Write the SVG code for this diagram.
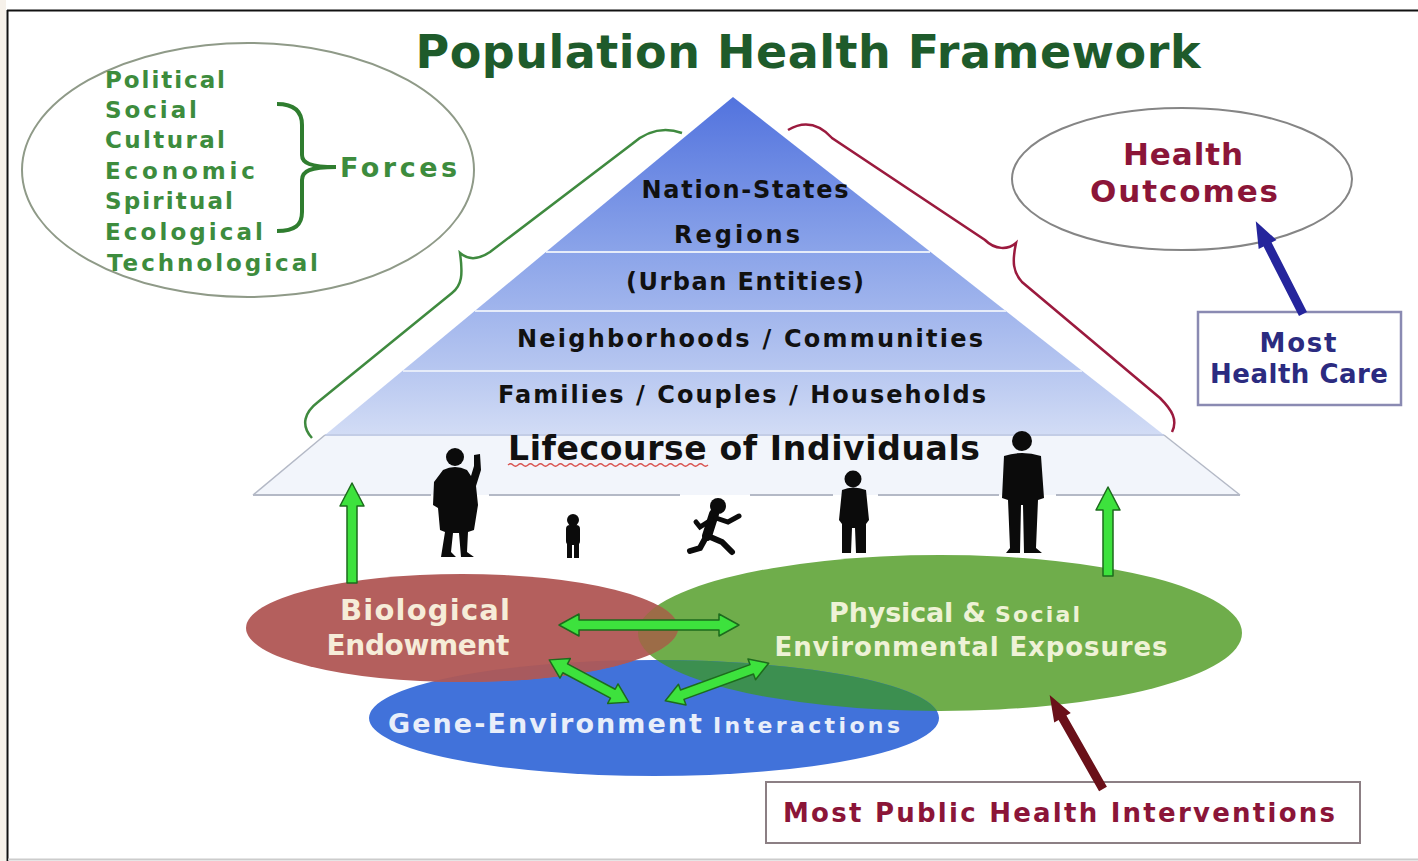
<svg xmlns="http://www.w3.org/2000/svg" width="1418" height="861" viewBox="0 0 1418 861">
  <style>
    .t { font-family: "DejaVu Sans", "Liberation Sans", sans-serif; font-weight: bold; }
    .force { fill: #3d8c3d; font-size: 23px; }
    .tier { fill: #111111; font-size: 24px; }
    .ell { fill: #ffffff; stroke: #8f9a88; stroke-width: 2; }
    .arrowG { fill: #3de23d; stroke: #1d6b1d; stroke-width: 1.5; stroke-linejoin: round; }
    .fig { fill: #0b0b0b; }
    .limb { stroke: #0b0b0b; stroke-linecap: round; fill: none; }
    .sep { stroke: #e6ecf9; stroke-width: 2; }
  </style>
  <defs>
    <linearGradient id="pyrFill" gradientUnits="userSpaceOnUse" x1="0" y1="97" x2="0" y2="435">
      <stop offset="0" stop-color="#5273de"/>
      <stop offset="0.45" stop-color="#8aa3e9"/>
      <stop offset="0.8" stop-color="#b6c6f0"/>
      <stop offset="1" stop-color="#d2dcf5"/>
    </linearGradient>
    <clipPath id="clipGreen"><ellipse cx="940" cy="633" rx="302" ry="78"/></clipPath>
    <clipPath id="clipBlue"><ellipse cx="654" cy="718" rx="285" ry="58"/></clipPath>
  </defs>

  <!-- page frame -->
  <g id="frame">
    <rect x="0" y="0" width="1418" height="861" fill="#ffffff"/>
    <rect x="0" y="0" width="6" height="861" fill="#f6f1ea"/>
    <line x1="7.5" y1="10" x2="7.5" y2="861" stroke="#111" stroke-width="2"/>
    <line x1="7" y1="10.5" x2="1418" y2="10.5" stroke="#111" stroke-width="2"/>
    <line x1="8" y1="859.5" x2="1418" y2="859.5" stroke="#cccccc" stroke-width="2"/>
  </g>

  <text id="title" class="t" x="808" y="68" font-size="46" fill="#1e5b2b" text-anchor="middle" textLength="785">Population Health Framework</text>

  <!-- forces ellipse -->
  <g id="forces">
    <ellipse class="ell" cx="248" cy="170" rx="226" ry="127"/>
    <text class="t force" x="105" y="88" textLength="120">Political</text>
    <text class="t force" x="105" y="118" textLength="92">Social</text>
    <text class="t force" x="105" y="148" textLength="120">Cultural</text>
    <text class="t force" x="105" y="179" textLength="150">Economic</text>
    <text class="t force" x="105" y="209" textLength="128">Spiritual</text>
    <text class="t force" x="105" y="240" textLength="158">Ecological</text>
    <text class="t force" x="107" y="271" textLength="211">Technological</text>
    <path d="M277,104 C295,104 302,112 302,125 L302,155 C302,163 310,167 336,167 C310,167 302,171 302,180 L302,212 C302,225 295,231 277,231" fill="none" stroke="#2f7d2f" stroke-width="4"/>
    <text class="t" x="340" y="177" font-size="27" fill="#3d8c3d" textLength="117">Forces</text>
  </g>

  <!-- pyramid of levels -->
  <g id="pyramid">
    <polygon points="733,97 1164,435 325,435" fill="url(#pyrFill)"/>
    <polygon points="325,435 1164,435 1240,495 253,495" fill="#f2f5fb"/>
    <line class="sep" x1="546" y1="252" x2="930" y2="252"/>
    <line class="sep" x1="475" y1="311" x2="1006" y2="311"/>
    <line class="sep" x1="403" y1="371" x2="1082" y2="371"/>
    <line x1="325" y1="435" x2="1164" y2="435" stroke="#c3cde6" stroke-width="2"/>
    <line x1="325" y1="435" x2="253" y2="495" stroke="#b4b9c6" stroke-width="1.5"/>
    <line x1="1164" y1="435" x2="1240" y2="495" stroke="#b4b9c6" stroke-width="1.5"/>
    <g stroke="#b4b9c6" stroke-width="2">
      <line x1="253" y1="495" x2="431" y2="495"/>
      <line x1="489" y1="495" x2="680" y2="495"/>
      <line x1="750" y1="495" x2="833" y2="495"/>
      <line x1="878" y1="495" x2="999" y2="495"/>
      <line x1="1056" y1="495" x2="1240" y2="495"/>
    </g>
    <text class="t tier" x="745" y="198" text-anchor="middle" textLength="207">Nation-States</text>
    <text class="t tier" x="737" y="243" text-anchor="middle" textLength="126">Regions</text>
    <text class="t tier" x="745" y="290" text-anchor="middle" textLength="238">(Urban Entities)</text>
    <text class="t tier" x="750" y="347" text-anchor="middle" textLength="466">Neighborhoods / Communities</text>
    <text class="t tier" x="742" y="403" text-anchor="middle" textLength="488">Families / Couples / Households</text>
    <text class="t" x="744" y="460" font-size="33" fill="#111" text-anchor="middle" textLength="472">Lifecourse of Individuals</text>
    <path d="M508,465 q2.5,-2.5 5,0 t5,0 t5,0 t5,0 t5,0 t5,0 t5,0 t5,0 t5,0 t5,0 t5,0 t5,0 t5,0 t5,0 t5,0 t5,0 t5,0 t5,0 t5,0 t5,0 t5,0 t5,0 t5,0 t5,0 t5,0 t5,0 t5,0 t5,0 t5,0 t5,0 t5,0 t5,0 t5,0 t5,0 t5,0 t5,0 t5,0 t5,0 t5,0 t5,0" fill="none" stroke="#d9534f" stroke-width="1.3"/>
  </g>

  <!-- people along the life course -->
  <g id="figures">
    <g id="woman" class="fig">
      <circle cx="455" cy="457" r="9"/>
      <path d="M443,470 Q455,464 467,470 L471,476 L474,466 L474,455 L480,454 L481,470 L476,486 L478,505 L474,530 L468,532 L467,552 L474,557 L461,557 L459,533 L453,533 L451,552 L456,557 L441,557 L445,532 L440,530 L438,508 L433,505 L434,482 Z"/>
    </g>
    <g id="toddler" class="fig">
      <circle cx="573" cy="520" r="6"/>
      <rect x="566" y="525" width="14" height="20" rx="4"/>
      <rect x="567" y="543" width="5" height="15"/>
      <rect x="574" y="543" width="5" height="15"/>
    </g>
    <g id="runner">
      <circle class="fig" cx="718" cy="506" r="8"/>
      <path class="limb" d="M714,514 L707,536" stroke-width="10"/>
      <path class="limb" d="M716,518 L728,522 L739,516" stroke-width="5"/>
      <path class="limb" d="M711,520 L700,527 L696,522" stroke-width="5"/>
      <path class="limb" d="M708,536 L722,542 L732,552" stroke-width="6"/>
      <path class="limb" d="M706,537 L700,548 L690,551" stroke-width="6"/>
    </g>
    <g id="boy" class="fig">
      <circle cx="853" cy="479" r="8.5"/>
      <path d="M842,490 Q853,485 866,490 L869,520 L866,524 L866,553 L856,553 L855,528 L852,528 L851,553 L842,553 L842,524 L839,520 Z"/>
    </g>
    <g id="man" class="fig">
      <circle cx="1022" cy="441" r="10"/>
      <path d="M1004,456 Q1022,450 1041,456 L1044,498 L1038,500 L1036,548 L1042,553 L1024,553 L1023,505 L1021,505 L1020,553 L1006,553 L1010,548 L1008,500 L1002,498 Z"/>
    </g>
  </g>

  <!-- health outcomes -->
  <g id="health-outcomes">
    <ellipse cx="1182" cy="179" rx="170" ry="71" fill="#ffffff" stroke="#858585" stroke-width="2"/>
    <text class="t" x="1183" y="165" font-size="31" fill="#8b1538" text-anchor="middle" textLength="120">Health</text>
    <text class="t" x="1184" y="202" font-size="31" fill="#8b1538" text-anchor="middle" textLength="188">Outcomes</text>
  </g>

  <g id="health-care">
    <rect x="1198" y="312" width="203" height="93" fill="#ffffff" stroke="#8a8ab2" stroke-width="2.5"/>
    <text class="t" x="1298" y="352" font-size="26" fill="#2b2b80" text-anchor="middle" textLength="77">Most</text>
    <text class="t" x="1299" y="383" font-size="26" fill="#2b2b80" text-anchor="middle" textLength="178">Health Care</text>
  </g>

  <g id="public-health">
    <rect x="766" y="782" width="594" height="61" fill="#ffffff" stroke="#8c7f84" stroke-width="2"/>
    <text class="t" x="783" y="822" font-size="26" fill="#8b1538" textLength="552">Most Public Health Interventions</text>
  </g>

  <!-- determinant ellipses -->
  <g id="environment">
    <ellipse cx="940" cy="633" rx="302" ry="78" fill="#6fad4b"/>
  </g>
  <g id="gene-environment">
    <ellipse cx="654" cy="718" rx="285" ry="58" fill="#4172da"/>
    <ellipse cx="654" cy="718" rx="285" ry="58" fill="#3c8f50" clip-path="url(#clipGreen)"/>
  </g>
  <g id="biological">
    <ellipse cx="462" cy="628" rx="216" ry="54" fill="#b45f5d"/>
    <ellipse cx="462" cy="628" rx="216" ry="54" fill="#9c6c47" clip-path="url(#clipGreen)"/>
    <ellipse cx="462" cy="628" rx="216" ry="54" fill="#a85a5e" clip-path="url(#clipBlue)"/>
  </g>
  <g id="labels">
    <text class="t" x="425" y="620" font-size="29" fill="#f6ecd8" text-anchor="middle" textLength="170">Biological</text>
    <text class="t" x="418" y="655" font-size="28" fill="#f6ecd8" text-anchor="middle" textLength="183">Endowment</text>
    <text class="t" x="829" y="622" font-size="27" fill="#eef2d6" textLength="157">Physical &amp;</text>
    <text class="t" x="995" y="622" font-size="22" fill="#eef2d6" textLength="85">Social</text>
    <text class="t" x="971" y="656" font-size="26" fill="#eef2d6" text-anchor="middle" textLength="393">Environmental Exposures</text>
    <text class="t" x="388" y="733" font-size="27" fill="#e8eefa" textLength="314">Gene-Environment</text>
    <text class="t" x="713" y="733" font-size="22" fill="#e8eefa" textLength="187">Interactions</text>
  </g>

  <!-- connectors: braces and arrows -->
  <g id="connectors">
    <path d="M312,438 C300,425 305,412 318,402 L452,293 C462,285 463,275 460,253 C468,260 478,260 490,252 L632,144 C648,130 665,127 682,133" fill="none" stroke="#3f8a3f" stroke-width="2.5"/>
    <path d="M788,130 C805,120 820,125 832,138 L985,240 C995,250 1008,250 1016,243 C1012,262 1013,272 1022,282 L1160,398 C1172,410 1178,420 1172,432" fill="none" stroke="#9b1a3e" stroke-width="2.5"/>

    <path class="arrowG" d="M347,583 L347,506 L340,506 L352,483 L364,506 L357,506 L357,583 Z"/>
    <path class="arrowG" d="M1103,576 L1103,510 L1096,510 L1108,487 L1120,510 L1113,510 L1113,576 Z"/>
    <path class="arrowG" d="M559,625 L579,614 L579,620 L719,620 L719,614 L739,625 L719,636 L719,630 L579,630 L579,636 Z"/>
    <path class="arrowG" transform="translate(589,681) rotate(28)" d="M-45,0 L-27,-11 L-27,-5 L27,-5 L27,-11 L45,0 L27,11 L27,5 L-27,5 L-27,11 Z"/>
    <path class="arrowG" transform="translate(717,682) rotate(-20)" d="M-55,0 L-37,-11 L-37,-5 L37,-5 L37,-11 L55,0 L37,11 L37,5 L-37,5 L-37,11 Z"/>

    <path transform="translate(1303,314) rotate(-117)" d="M0,-4.5 L78,-4.5 L78,-10 L104,0 L78,10 L78,4.5 L0,4.5 Z" fill="#25259c"/>
    <path transform="translate(1103,789) rotate(-119.6)" d="M0,-4.5 L82,-4.5 L82,-9.5 L108,0 L82,9.5 L82,4.5 L0,4.5 Z" fill="#6a1019"/>
  </g>
</svg>
